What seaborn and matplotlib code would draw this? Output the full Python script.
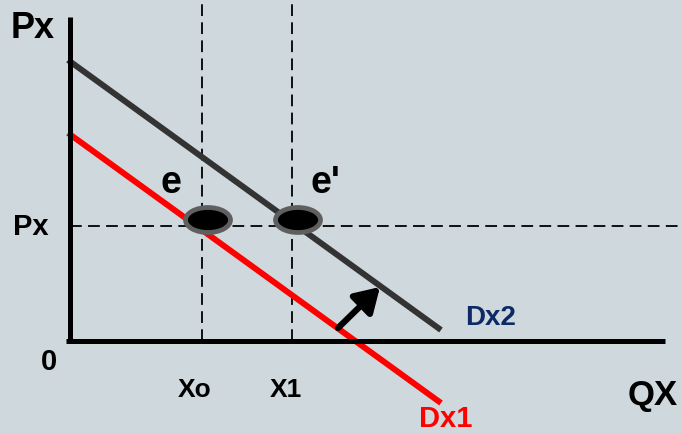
import matplotlib
matplotlib.use("Agg")
import matplotlib.pyplot as plt
from matplotlib.patches import Ellipse, FancyArrowPatch
import pandas as pd
import seaborn as sns

# Demand curves: quantity (Q) and price (P) end points
q_ends = [-2, 371]
dx1_p = [208, -62]
dx2_p = [281, 11]

# Equilibrium price level and quantities
px_level = 115
x_ticks = [132, 222]
x_tick_labels = ["Xo", "X1"]

# Equilibrium points e and e'
eq_q = [138, 228]
eq_p = [121, 121]
eq_labels = ["e", "e'"]

# Shift arrow from Dx1 toward Dx2
shift_start = (268, 13)
shift_end = (310, 54)

bg = "#cfd8dc"
sns.set_theme(style="white")
plt.rcParams["font.family"] = ["Liberation Sans", "DejaVu Sans"]
plt.rcParams["font.weight"] = "bold"

fig = plt.figure(figsize=(6.82, 4.33), dpi=100, facecolor=bg)
ax = fig.add_axes([0, 0, 1, 1])
ax.set_facecolor(bg)
ax.set_xlim(-70, 612)
ax.set_ylim(-92, 341)
ax.set_axis_off()

curves = pd.DataFrame({
    "Q": q_ends + q_ends,
    "P": dx1_p + dx2_p,
    "curve": ["Dx1", "Dx1", "Dx2", "Dx2"],
})
sns.lineplot(data=curves, x="Q", y="P", hue="curve",
             palette={"Dx1": "#ff0000", "Dx2": "#333333"},
             linewidth=4.3, legend=False, ax=ax, sort=False,
             solid_capstyle="butt")

# Guide lines at the equilibrium price and quantities
dash = (0, (6.5, 3.5))
ax.plot([0, 612], [px_level, px_level], color="black", lw=1.3, linestyle=dash, zorder=1)
for q in x_ticks:
    ax.plot([q, q], [0, 341], color="black", lw=1.3, linestyle=dash, zorder=1)

# Axes
ax.plot([0, 0], [-2, 324], color="black", lw=3.6, solid_capstyle="butt", zorder=3)
ax.plot([-4, 595], [0, 0], color="black", lw=3.6, solid_capstyle="butt", zorder=3)

# Equilibrium markers
for q, p in zip(eq_q, eq_p):
    ax.add_patch(Ellipse((q, p), 45, 25, facecolor="black",
                         edgecolor="#5f5f5f", lw=3.4, zorder=5))

arrow = FancyArrowPatch(shift_start, shift_end,
                        arrowstyle="-|>,head_length=0.9,head_width=0.55",
                        mutation_scale=16, color="black", lw=4.5, zorder=4,
                        shrinkA=0, shrinkB=0)
ax.add_patch(arrow)

text_kw = dict(ha="center", va="baseline", fontweight="bold")
ax.text(-37, 303, "Px", fontsize=26, color="black", **text_kw)
ax.text(-39, 106, "Px", fontsize=21, color="black", **text_kw)
ax.text(-21, -29, "0", fontsize=21, color="black", **text_kw)
for q, lab in zip(x_ticks, x_tick_labels):
    ax.text(q - 7 if lab == "Xo" else q - 6, -56, lab, fontsize=19, color="black", **text_kw)
ax.text(583, -64, "QX", fontsize=25, color="black", **text_kw)
ax.text(101, 148, eq_labels[0], fontsize=27, color="black", **text_kw)
ax.text(255, 148, eq_labels[1], fontsize=27, color="black", **text_kw)
ax.text(421, 16, "Dx2", fontsize=20, color="#0b2a66", **text_kw)
ax.text(376, -86, "Dx1", fontsize=21, color="#ff0000", **text_kw)

fig.savefig("out.png", dpi=100, facecolor=bg)
